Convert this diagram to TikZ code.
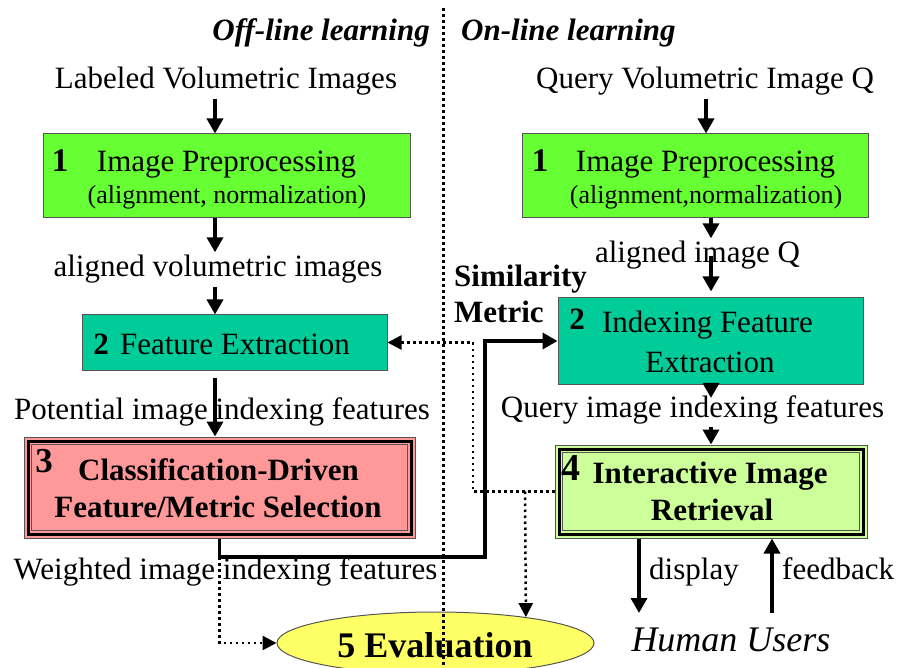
\documentclass[tikz,border=0pt]{standalone}
\usepackage{fontspec}
\setmainfont{Liberation Serif}
\usetikzlibrary{arrows.meta,shapes.geometric}

\definecolor{prepgreen}{HTML}{66FF33}
\definecolor{featteal}{HTML}{00CC99}
\definecolor{selpink}{HTML}{FF9999}
\definecolor{retrgreen}{HTML}{CCFF99}
\definecolor{evalyellow}{HTML}{FFFF66}
\definecolor{edgegray}{HTML}{555555}

\tikzset{
  lbl/.style={inner xsep=0pt, inner ysep=3pt, anchor=base, font=\fontsize{31}{37}\selectfont},
  lblsmall/.style={lbl, font=\fontsize{26}{31}\selectfont},
  lblb/.style={lbl, font=\fontsize{31}{37}\selectfont\bfseries},
  numone/.style={lbl, font=\fontsize{33}{40}\selectfont\bfseries},
  numbig/.style={lbl, font=\fontsize{38}{44}\selectfont\bfseries},
  headtxt/.style={lbl, font=\fontsize{31}{37}\selectfont\bfseries\itshape},
  box/.style={draw=edgegray, line width=1pt, inner sep=0pt},
  flow/.style={line width=3.5pt, -{Triangle[length=15pt,width=16pt]}},
  metric/.style={line width=3.5pt, -{Triangle[length=15pt,width=16pt]}},
  dotlink/.style={line width=2.5pt, dash pattern=on 2.5pt off 3.5pt, -{Triangle[length=14pt,width=14pt]}},
  divider/.style={line width=3pt, dash pattern=on 3pt off 3pt},
}

\begin{document}
\begin{tikzpicture}[x=1pt,y=-1pt]
\useasboundingbox (0,0) rectangle (897,668);
\clip (0,0) rectangle (897,668);

% ---------- boxes ----------
\node[box, fill=prepgreen, minimum width=367pt, minimum height=84pt] (pre1) at (226.5,176) {};
\node[box, fill=prepgreen, minimum width=346pt, minimum height=84pt] (pre2) at (695,176) {};
\node[box, fill=featteal, minimum width=305pt, minimum height=55pt] (fe) at (234.5,342.5) {};
\node[box, fill=featteal, minimum width=305pt, minimum height=86pt] (ife) at (710.5,341) {};
\node[box, fill=selpink, minimum width=391pt, minimum height=101pt] (sel) at (219.5,487.5) {};
\node[box, fill=retrgreen, minimum width=312pt, minimum height=93pt] (iir) at (711,491.5) {};
\node[box, ellipse, fill=evalyellow, minimum width=317pt, minimum height=62pt] (ev) at (435.5,643) {};

% framed borders of the selection and retrieval boxes
\foreach \n in {sel, iir} {
  \draw[line width=3pt] ([xshift=4.5pt,yshift=-4.5pt]\n.north west) rectangle ([xshift=-4.5pt,yshift=4.5pt]\n.south east);
  \draw[line width=1pt, edgegray] ([xshift=8pt,yshift=-8pt]\n.north west) rectangle ([xshift=-8pt,yshift=8pt]\n.south east);
}

% ---------- headings ----------
\node[headtxt, anchor=base east] (offl) at (430,41) {Off-line learning};
\node[headtxt, anchor=base west] (onl) at (461,41) {On-line learning};

% ---------- off-line column ----------
\node[lbl] (lvi) at (226,89) {Labeled Volumetric Images};
\node[numone] (n1a) at (60,172) {1};
\node[lbl] (t1a) at (226.5,172) {Image Preprocessing};
\node[lblsmall] (t1b) at (227,204) {(alignment, normalization)};
\node[lbl] (av) at (218,277) {aligned volumetric images};
\node[lblb] (n2a) at (101,355) {2};
\node[lbl] (t2a) at (235,355) {Feature Extraction};
\node[lbl] (pot) at (222,419) {Potential image indexing features};
\node[lbl, font=\fontsize{35}{42}\selectfont\bfseries] (n3) at (44,472) {3};
\node[lblb] (t3a) at (218.5,480) {Classification-Driven};
\node[lblb] (t3b) at (218,517) {Feature/Metric Selection};
\node[lbl] (wif) at (225.5,579) {Weighted image indexing features};
\node[lbl, font=\fontsize{36}{40}\selectfont\bfseries] (t5) at (435,657) {5 Evaluation};

% ---------- on-line column ----------
\node[lbl] (qvi) at (705,89) {Query Volumetric Image Q};
\node[numone] (n1b) at (540,172) {1};
\node[lbl] (t1c) at (705.5,172) {Image Preprocessing};
\node[lblsmall] (t1d) at (706,204) {(alignment,normalization)};
\node[lbl] (aiq) at (697.5,263) {aligned image Q};
\node[lblb, anchor=base west] (sim) at (454,287) {Similarity};
\node[lblb, anchor=base west] (met) at (454,323) {Metric};
\node[lblb] (n2b) at (577,330) {2};
\node[lbl] (t2b) at (707.5,333) {Indexing Feature};
\node[lbl] (t2c) at (710,372) {Extraction};
\node[lbl] (qif) at (692.5,417) {Query image indexing features};
\node[numbig] (n4) at (570.5,480) {4};
\node[lblb] (t4a) at (710,483) {Interactive Image};
\node[lblb] (t4b) at (712,520) {Retrieval};
\node[lbl, anchor=base west] (disp) at (649,579) {display};
\node[lbl, anchor=base west] (fb) at (782,579) {feedback};
\node[lbl, font=\fontsize{36}{40}\selectfont\itshape] (hu) at (731,651) {Human Users};

% ---------- connector guides ----------
\coordinate (colL) at (215,0);
\coordinate (colQ) at (706,0);
\coordinate (colM) at (711,0);
\coordinate (mk) at (485,557);
\coordinate (dk) at (473,343);
\coordinate (bk) at (525,0);
\coordinate (dispx) at (639,613);
\coordinate (fbx) at (772,613);

% ---------- dotted links ----------
\draw[dotlink] (iir.west) -| (dk) |- (fe.east);
\draw[dotlink] (iir.west -| bk) -- (ev.16);
\draw[dotlink] (sel.south |- mk) |- (ev.west);

% ---------- solid flows ----------
\draw[flow] (lvi.south -| colL) -- (pre1.north -| colL);
\draw[flow] (pre1.south -| colL) -- (av.north -| colL);
\draw[flow] (av.south -| colL) -- (fe.north -| colL);
\draw[flow, shorten <=7pt] (fe.south -| colL) -- (sel.north -| colL);

\draw[flow] (qvi.south -| colQ) -- (pre2.north -| colQ);
\draw[flow] (pre2.south -| colM) -- (aiq.north -| colM);
\draw[flow, shorten >=6pt] (aiq.center -| colM) -- (ife.north -| colM);
\draw[flow, shorten >=-6pt] (ife.south -| colM) -- (qif.north -| colM);
\draw[flow] (qif.south -| colM) -- (iir.north -| colM);

\draw[metric] (sel.south) |- (mk) |- (ife.west);

\draw[flow] (iir.south -| dispx) -- (dispx);
\draw[flow] (fbx) -- (iir.south -| fbx);

% ---------- divider between the two halves ----------
\coordinate (divtop) at (443,8);
\coordinate (divbot) at (443,668);
\draw[divider] (divtop) -- (divbot);
\end{tikzpicture}
\end{document}
